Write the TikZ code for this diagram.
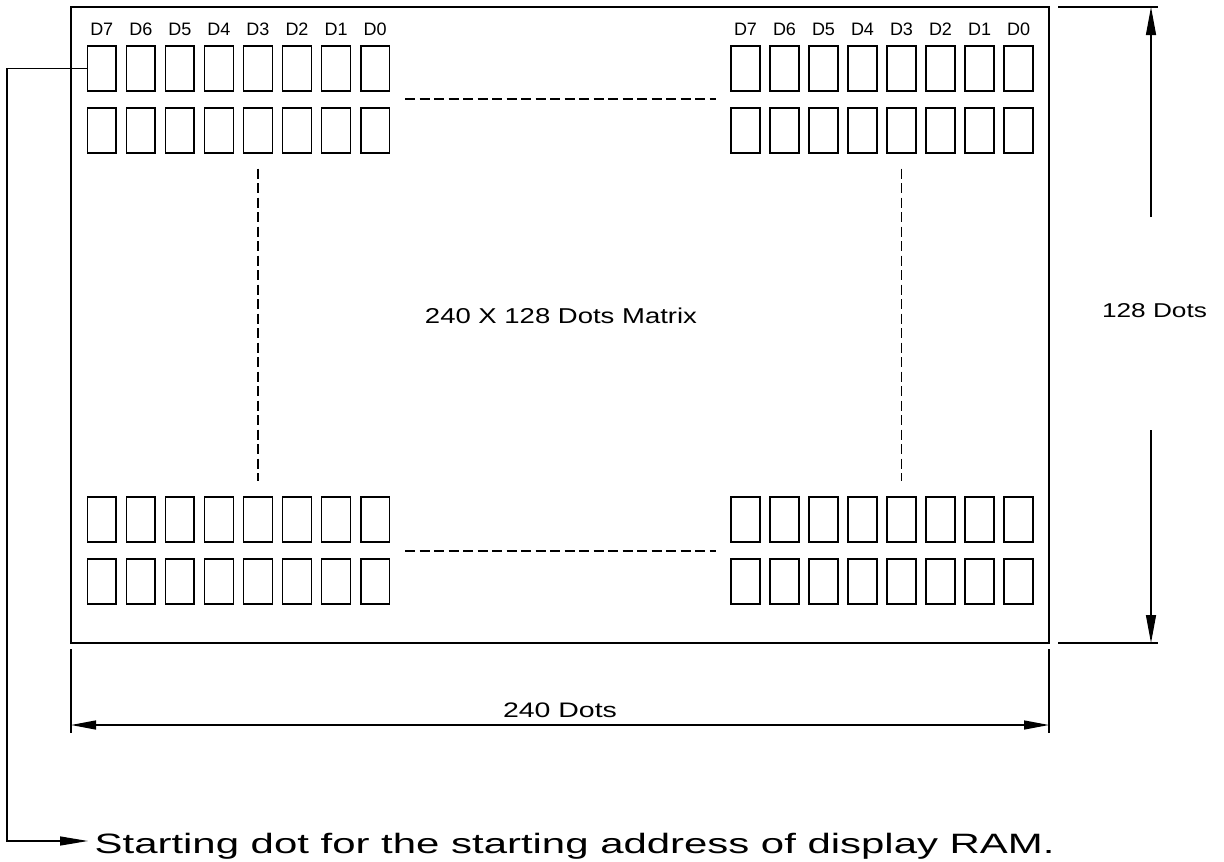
\documentclass[tikz,border=0pt]{standalone}
\usepackage{fontspec}
\setmainfont{Liberation Sans}
\usetikzlibrary{arrows.meta,calc}
\newcommand\stretchto[3]{\resizebox{#1}{\height}{\fontsize{#2}{#2}\selectfont #3}}
\tikzset{
  dimtip/.tip={Triangle[length=25pt,width=9pt]},
  vtip/.tip={Triangle[length=28pt,width=10pt]},
  ldrtip/.tip={Triangle[length=28pt,width=9pt]}}
\begin{document}
\begin{tikzpicture}[x=1pt,y=-1pt,line width=1.3pt,
  cellbox/.style={draw,rectangle,inner sep=0,minimum width=28.5pt,minimum height=45pt},
  rcellbox/.style={cellbox,minimum width=29pt},
  txt/.style={inner sep=0,anchor=base},
  dashln/.style={dash pattern=on 10pt off 4.5pt}]
\useasboundingbox (0,0) rectangle (1224,862);
% frame
\node[draw,inner sep=0,minimum width=978pt,minimum height=636pt] (frame) at (560,325) {};
% cells and labels
\foreach \k in {0,...,7}{
  \pgfmathtruncatemacro\d{7-\k}
  \node[cellbox] (tl1-\k) at (101.75+39.05*\k,68.5) {};
  \node[cellbox] (tl2-\k) at (101.75+39.05*\k,130.5) {};
  \node[cellbox] (bl1-\k) at (101.75+39.05*\k,519.5) {};
  \node[cellbox] (bl2-\k) at (101.75+39.05*\k,581.5) {};
  \node[rcellbox] (tr1-\k) at (745.5+39*\k,68.5) {};
  \node[rcellbox] (tr2-\k) at (745.5+39*\k,130.5) {};
  \node[rcellbox] (br1-\k) at (745.5+39*\k,519.5) {};
  \node[rcellbox] (br2-\k) at (745.5+39*\k,581.5) {};
  \node[txt] (ll-\k) at (101.75+39.05*\k,35) {\stretchto{23pt}{18}{D\d}};
  \node[txt] (rl-\k) at (745.5+39*\k,35) {\stretchto{23pt}{18}{D\d}};
}
% dashed continuation lines
\coordinate (hta) at (405,99);  \coordinate (htb) at (716,99);
\coordinate (hba) at (405,551); \coordinate (hbb) at (716,551);
\draw[dashln] (hta) -- (htb);
\draw[dashln] (hba) -- (hbb);
\draw[dashln] ($(tl2-4.south)+(0,15)$) -- ($(bl1-4.north)-(0,15)$);
\draw[dashln] ($(tr2-4.south)+(0,15)$) -- ($(br1-4.north)-(0,15)$);
% centre text
\node[txt] (title) at (561,323) {\stretchto{272pt}{21.5}{240 X 128 Dots Matrix}};
% right dimension
\coordinate (ea1) at (1058,7);   \coordinate (ea2) at (1158,7);
\coordinate (eb1) at (1058,643); \coordinate (eb2) at (1158,643);
\draw (ea1) -- (ea2);
\draw (eb1) -- (eb2);
\coordinate (vtop) at (1151,7);   \coordinate (va) at (1151,217);
\coordinate (vbot) at (1151,643); \coordinate (vb) at (1151,430);
\draw[-vtip] (va) -- (vtop);
\draw[-vtip] (vb) -- (vbot);
\node[txt] (hdots) at (1154.5,317) {\stretchto{105pt}{20}{128 Dots}};
% bottom dimension
\coordinate (xl1) at (71,649);   \coordinate (xl2) at (71,733);
\coordinate (xr1) at (1049,649); \coordinate (xr2) at (1049,733);
\draw (xl1) -- (xl2);
\draw (xr1) -- (xr2);
\coordinate (hl) at (71,725); \coordinate (hr) at (1049,725);
\draw[dimtip-dimtip] (hl) -- (hr);
\node[txt] (wdots) at (560,717) {\stretchto{114pt}{21}{240 Dots}};
% leader to starting dot
\node[txt,anchor=base west] (start) at (94,853) {\stretchto{960pt}{28}{Starting dot for the starting address of display RAM.}};
\coordinate (lcorner) at (7,841);
\coordinate (ltip) at (88,841);
\draw[-ldrtip] (tl1-0.west) -| (lcorner) -- (ltip);
\end{tikzpicture}
\end{document}
